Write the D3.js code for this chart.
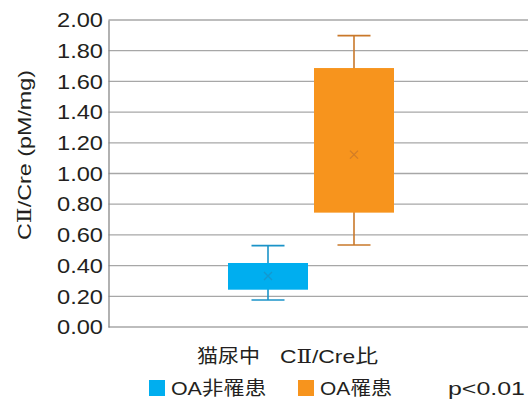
<!DOCTYPE html>
<html>
<head>
<meta charset="utf-8">
<script src="https://cdn.jsdelivr.net/npm/d3@7"></script>
<style>
  body { margin: 0; background: #fff; }
  text { font-family: "Liberation Sans", "Noto Sans CJK JP", sans-serif; fill: #231f20; }
  .roman { font-family: "DejaVu Serif", serif; }
</style>
</head>
<body>
<div id="chart"></div>
<script>
// data
var series = ["OA非罹患", "OA罹患"];
var whiskerLow = [0.176, 0.534];
var boxLow = [0.243, 0.745];
var boxHigh = [0.417, 1.687];
var whiskerHigh = [0.530, 1.898];
var means = [0.332, 1.123];
var yTicks = [0, 0.2, 0.4, 0.6, 0.8, 1.0, 1.2, 1.4, 1.6, 1.8, 2.0];
var fills = ["#00aeef", "#f7941d"];
var strokes = ["#1a93c8", "#c9782a"];

var svgWidth = 528, svgHeight = 402;
var svg = d3.select("#chart").append("svg")
    .attr("width", svgWidth).attr("height", svgHeight);

var y = d3.scaleLinear().domain([0, 2]).range([327, 20]);
var x = d3.scaleBand().domain(series).range([228, 394]).paddingInner(6 / 86);
var left = 108.5, right = 528;

// gridlines
svg.append("g").selectAll("line")
    .data(yTicks).enter().append("line")
    .attr("x1", left).attr("x2", right)
    .attr("y1", function(d) { return y(d); })
    .attr("y2", function(d) { return y(d); })
    .attr("stroke", "#a7a7a7").attr("stroke-width", 1.3);

// y axis
var yAxis = svg.append("g")
    .attr("transform", "translate(" + left + " 0)")
    .call(d3.axisLeft(y).tickValues(yTicks).tickSize(0).tickPadding(5.5)
        .tickFormat(d3.format(".2f")));
yAxis.select(".domain").attr("stroke", "#888").attr("stroke-width", 1.3);
yAxis.selectAll("text")
    .attr("font-size", "21px")
    .attr("textLength", 46).attr("lengthAdjust", "spacingAndGlyphs")
    .style("fill", "#231f20")
    .attr("font-family", "Liberation Sans, sans-serif");

// boxes
var idx = d3.range(series.length);
var g = svg.append("g");
idx.forEach(function(i) {
    var cx = x(series[i]) + x.bandwidth() / 2;
    var capW = 16.5;
    g.append("line")
        .attr("x1", cx).attr("x2", cx)
        .attr("y1", y(whiskerHigh[i])).attr("y2", y(whiskerLow[i]))
        .attr("stroke", strokes[i]).attr("stroke-width", 1.6);
    [whiskerHigh[i], whiskerLow[i]].forEach(function(v) {
        g.append("line")
            .attr("x1", cx - capW).attr("x2", cx + capW)
            .attr("y1", y(v)).attr("y2", y(v))
            .attr("stroke", strokes[i]).attr("stroke-width", 1.6);
    });
    g.append("rect")
        .attr("x", x(series[i])).attr("width", x.bandwidth())
        .attr("y", y(boxHigh[i]))
        .attr("height", y(boxLow[i]) - y(boxHigh[i]))
        .attr("fill", fills[i]);
    var my = y(means[i]), s = 4;
    g.append("path")
        .attr("d", "M" + (cx - s) + "," + (my - s) + "L" + (cx + s) + "," + (my + s) +
                   "M" + (cx - s) + "," + (my + s) + "L" + (cx + s) + "," + (my - s))
        .attr("stroke", strokes[i]).attr("stroke-width", 1.3).attr("opacity", 0.8);
});

// axis titles
var yTitle = svg.append("text")
    .attr("transform", "translate(30.5 155) rotate(-90)")
    .attr("text-anchor", "middle")
    .attr("font-size", "19px")
    .attr("textLength", 170).attr("lengthAdjust", "spacingAndGlyphs");
yTitle.append("tspan").text("C");
yTitle.append("tspan").attr("class", "roman").text("Ⅱ");
yTitle.append("tspan").text("/Cre (pM/mg)");

svg.append("text")
    .attr("x", 197).attr("y", 363)
    .attr("font-size", "19px")
    .attr("textLength", 63).attr("lengthAdjust", "spacingAndGlyphs")
    .text("猫尿中");
var xTitle = svg.append("text")
    .attr("x", 280).attr("y", 363)
    .attr("font-size", "19px")
    .attr("textLength", 98).attr("lengthAdjust", "spacingAndGlyphs");
xTitle.append("tspan").text("C");
xTitle.append("tspan").attr("class", "roman").text("Ⅱ");
xTitle.append("tspan").text("/Cre比");

// legend
var legend = svg.append("g");
var legendX = [149, 298];
var legendLen = [95, 72];
idx.forEach(function(i) {
    legend.append("rect")
        .attr("x", legendX[i]).attr("y", 380)
        .attr("width", 16).attr("height", 16)
        .attr("fill", fills[i]);
    legend.append("text")
        .attr("x", legendX[i] + 22).attr("y", 395)
        .attr("font-size", "19px")
        .attr("textLength", legendLen[i]).attr("lengthAdjust", "spacingAndGlyphs")
        .text(series[i]);
});
legend.append("text")
    .attr("x", 448).attr("y", 395)
    .attr("font-size", "19px")
    .attr("textLength", 77).attr("lengthAdjust", "spacingAndGlyphs")
    .text("p<0.01");
</script>
</body>
</html>
